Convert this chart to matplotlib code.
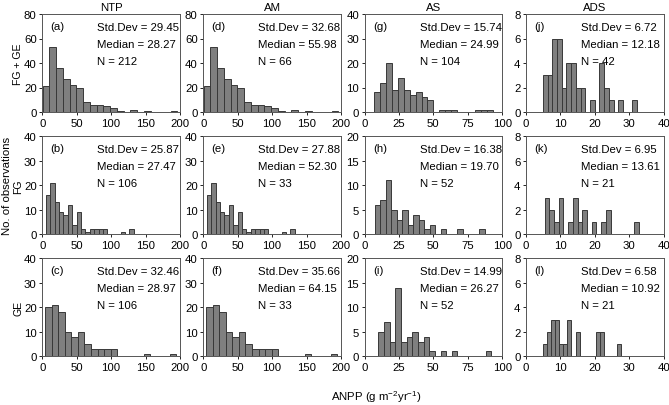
import numpy as np
import matplotlib.pyplot as plt

plt.rcParams['font.family'] = ['Liberation Sans', 'DejaVu Sans']
plt.rcParams['mathtext.fontset'] = 'custom'
plt.rcParams['mathtext.rm'] = 'Liberation Sans'
plt.rcParams['mathtext.it'] = 'Liberation Sans:italic'

# colonnes (sites) et lignes (groupes)
sites = ['NTP', 'AM', 'AS', 'ADS']
groupes = ['FG + GE', 'FG', 'GE']
lettres = [['(a)', '(d)', '(g)', '(j)'],
           ['(b)', '(e)', '(h)', '(k)'],
           ['(c)', '(f)', '(i)', '(l)']]

std_dev = [[29.45, 32.68, 15.74, 6.72],
           [25.87, 27.88, 16.38, 6.95],
           [32.46, 35.66, 14.99, 6.58]]
mediane = [[28.27, 55.98, 24.99, 12.18],
           [27.47, 52.30, 19.70, 13.61],
           [28.97, 64.15, 26.27, 10.92]]
n_obs = [[212, 66, 104, 42],
         [106, 33, 52, 21],
         [106, 33, 52, 21]]

# histogrammes : debut du premier intervalle, largeur, effectifs
ntp_all = (0.5, 9.8, [21, 53, 36, 27, 22, 20, 8, 6, 6, 5, 3, 1, 0, 2, 0, 1, 0, 0, 0, 1])
ntp_fg = (5.0, 6.4, [16, 21, 13, 9, 8, 12, 4, 9, 2, 1, 2, 2, 2, 2, 0, 0, 0, 1, 0, 2])
ntp_ge = (4.0, 9.55, [20, 21, 18, 10, 8, 10, 5, 3, 3, 3, 3, 0, 0, 0, 0, 1, 0, 0, 0, 1])

am_all = (0.5, 9.8, [21, 53, 36, 27, 22, 20, 8, 6, 6, 5, 3, 1, 0, 2, 0, 1, 0, 0, 0, 1])
am_fg = (5.0, 6.4, [16, 21, 13, 9, 8, 12, 4, 9, 2, 1, 2, 2, 2, 2, 0, 0, 0, 1, 0, 2])
am_ge = (4.0, 9.55, [20, 21, 18, 10, 8, 10, 5, 3, 3, 3, 3, 0, 0, 0, 0, 1, 0, 0, 0, 1])

as_all = (7.0, 4.3, [8, 12, 20, 9, 14, 9, 7, 8, 6, 5, 0, 1, 1, 1, 0, 0, 0, 1, 1, 1])
as_fg = (7.2, 4.0, [6, 7, 11, 5, 3, 5, 2, 4, 3, 1, 2, 0, 1, 0, 0, 1, 0, 0, 0, 1])
as_ge = (10.1, 4.1, [5, 7, 3, 14, 3, 4, 5, 3, 4, 1, 0, 1, 0, 1, 0, 0, 0, 0, 0, 1])

ads_all = (4.9, 1.37, [3, 3, 6, 6, 2, 4, 4, 2, 2, 0, 1, 0, 4, 2, 1, 0, 1, 0, 0, 1])
ads_fg = (5.4, 1.37, [3, 2, 1, 3, 0, 1, 3, 1, 2, 0, 1, 0, 1, 2, 0, 0, 0, 0, 0, 1])
ads_ge = (4.8, 1.2, [1, 2, 3, 3, 1, 1, 3, 0, 2, 0, 0, 0, 0, 2, 2, 0, 0, 0, 1])

histos = [[ntp_all, am_all, as_all, ads_all],
          [ntp_fg, am_fg, as_fg, ads_fg],
          [ntp_ge, am_ge, as_ge, ads_ge]]

x_max = [200, 200, 100, 40]
x_pas = [50, 50, 25, 10]
y_max = [[80, 80, 40, 8], [40, 40, 20, 8], [40, 40, 20, 8]]
y_pas = [[20, 20, 10, 2], [10, 10, 5, 2], [10, 10, 5, 2]]

W, H = 669, 406
fig = plt.figure(figsize=(W / 100, H / 100), dpi=100)

gauches = [42.3, 203.3, 364.6, 526.0]
hauts = [15.0, 137.3, 259.3]
larg, haut = 137.6, 98.0

for i in range(3):
    for j in range(4):
        ax = fig.add_axes([gauches[j] / W, 1 - (hauts[i] + haut) / H, larg / W, haut / H])
        debut, largeur, effectifs = histos[i][j]
        effectifs = np.array(effectifs)
        bords = debut + largeur * np.arange(len(effectifs))
        garde = effectifs > 0
        ax.bar(bords[garde], effectifs[garde], width=largeur, align='edge',
               color='#7f7f7f', edgecolor='#383838', linewidth=0.7)
        ax.set_xlim(0, x_max[j])
        ax.set_ylim(0, y_max[i][j])
        ax.set_xticks(np.arange(0, x_max[j] + 1, x_pas[j]))
        ax.set_yticks(np.arange(0, y_max[i][j] + 1, y_pas[i][j]))
        ax.tick_params(labelsize=8.2, length=2.5, width=0.6, pad=1.5, direction='out')
        for s in ax.spines.values():
            s.set_linewidth(0.7)
            s.set_color('#555555')
        ax.text(0.06, 0.88, lettres[i][j], transform=ax.transAxes, fontsize=8.2, va='center')
        ax.text(0.40, 0.87, 'Std.Dev = %.2f' % std_dev[i][j], transform=ax.transAxes,
                fontsize=8.2, va='center')
        ax.text(0.40, 0.695, 'Median = %.2f' % mediane[i][j], transform=ax.transAxes,
                fontsize=8.2, va='center')
        ax.text(0.40, 0.52, 'N = %d' % n_obs[i][j], transform=ax.transAxes,
                fontsize=8.2, va='center')
        if i == 0:
            ax.set_title(sites[j], fontsize=8.2, pad=3)

for i in range(3):
    yc = 1 - (hauts[i] + haut / 2) / H
    fig.text(18 / W, yc, groupes[i], rotation=90, fontsize=7.6, ha='center', va='center')
fig.text(7 / W, 1 - (hauts[1] + haut / 2) / H, 'No. of observations', rotation=90,
         fontsize=8.2, ha='center', va='center')

fig.text(376 / W, 1 - 397 / H, 'ANPP (g m$^{-2}$yr$^{-1}$)', fontsize=8.2, ha='center', va='center')

fig.savefig('out.png', dpi=100)
